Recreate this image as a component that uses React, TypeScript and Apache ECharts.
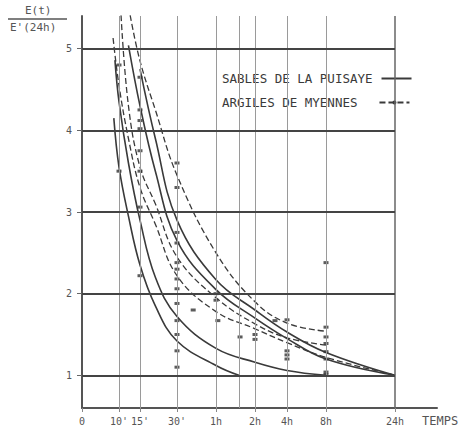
import { useEffect, useRef } from "react";
import * as echarts from "echarts";

// ---- axis definition (time axis of the scan: quasi-logarithmic, hand drawn) ----
const TICK_LABELS = ["0", "10'", "15'", "30'", "1h", "2h", "4h", "8h", "24h"];
const TICK_MINUTES = [0, 10, 15, 30, 60, 120, 240, 480, 1440];
const TICK_UNITS = [0, 37, 58, 95, 134, 173, 205, 244, 313];
const X_MAX = 355;
const GRID_MINUTES = [10, 15, 30, 60, 90, 120, 240, 480];
const Y_TICKS = [1, 2, 3, 4, 5];

// ---- data: [minutes, E(t)/E'(24h)] ----
const SABLES_1 = [[8.6, 4.15], [10, 3.55], [12, 2.95], [15, 2.35], [20, 1.85], [30, 1.42], [60, 1.12], [90, 1.0]];
const SABLES_2 = [[8.9, 4.86], [10, 4.35], [12, 3.6], [15, 2.9], [20, 2.2], [30, 1.72], [60, 1.33], [120, 1.16], [240, 1.06], [480, 1.0]];
const SABLES_3 = [[12, 5.04], [15, 4.3], [20, 3.5], [30, 2.65], [60, 2.05], [120, 1.7], [240, 1.45], [480, 1.2], [1440, 1.0]];
const SABLES_4 = [[15, 4.75], [20, 3.9], [30, 2.9], [60, 2.17], [120, 1.8], [240, 1.53], [480, 1.28], [1440, 1.0]];
const ARGILES_1 = [[8.4, 5.13], [10, 4.55], [12, 3.9], [15, 3.3], [20, 2.85], [30, 2.22], [60, 1.78], [120, 1.57], [240, 1.4], [480, 1.22], [1440, 1.0]];
const ARGILES_2 = [[10.4, 5.41], [12, 4.3], [15, 3.55], [20, 3.1], [30, 2.45], [60, 1.95], [120, 1.63], [240, 1.46], [480, 1.37]];
const ARGILES_3 = [[12.4, 5.41], [15, 4.85], [20, 4.25], [30, 3.45], [60, 2.5], [120, 1.9], [240, 1.64], [480, 1.54]];
const POINTS = [
  [10, 4.8], [10, 3.5],
  [15, 4.65], [15, 4.25], [15, 4.12], [15, 4.02], [15, 3.75], [15, 3.5], [15, 3.06], [15, 2.22],
  [30, 3.6], [30, 3.3], [30, 2.75], [30, 2.62], [30, 2.38], [30, 2.3], [30, 2.18], [30, 2.06], [30, 1.88], [30, 1.67], [30, 1.5], [30, 1.3], [30, 1.1],
  [40, 1.8], [60, 2.0], [60, 1.92], [62, 1.67], [92, 1.47], [120, 1.5], [120, 1.44], [185, 1.67],
  [240, 1.68], [240, 1.3], [240, 1.25], [240, 1.2],
  [480, 2.38], [480, 1.59], [480, 1.47], [480, 1.39], [480, 1.29], [480, 1.2], [480, 1.04], [480, 1.01],
];

const SABLES_NAME = "SABLES DE LA PUISAYE";
const ARGILES_NAME = "ARGILES DE MYENNES";

function timeToUnits(m: number): number {
  if (m <= TICK_MINUTES[1]) return (m / TICK_MINUTES[1]) * TICK_UNITS[1];
  for (let i = 1; i < TICK_MINUTES.length - 1; i++) {
    const a = TICK_MINUTES[i], b = TICK_MINUTES[i + 1];
    if (m <= b) {
      const f = Math.log(m / a) / Math.log(b / a);
      return TICK_UNITS[i] + f * (TICK_UNITS[i + 1] - TICK_UNITS[i]);
    }
  }
  return TICK_UNITS[TICK_UNITS.length - 1];
}

const toXY = (arr: number[][]) => arr.map(([m, v]) => [timeToUnits(m), v]);

const FONT = "DejaVu Sans Mono";
const INK = "#3a3a3a";

function legendFor(name: string, top: number, gap: number, hideSymbol: boolean) {
  return {
    data: [hideSymbol ? { name, itemStyle: { opacity: 0 } } : { name }],
    orient: "vertical",
    left: 217,
    top,
    align: "right",
    itemWidth: 30,
    itemHeight: 5,
    selectedMode: false,
    textStyle: { fontFamily: FONT, fontSize: 12.5, color: INK, padding: [0, gap, 0, 0] },
  };
}

function buildOption() {
  const x24 = timeToUnits(1440);
  const lineSeries = (name: string, data: number[][], dashed: boolean) => ({
    type: "line",
    name,
    data: toXY(data),
    smooth: 0.4,
    symbol: dashed ? "circle" : "none",
    symbolSize: 4,
    showSymbol: false,
    itemStyle: { color: INK },
    lineStyle: { color: INK, width: dashed ? 1.3 : 1.6, type: dashed ? [6, 3] : "solid" },
    silent: true,
    z: 3,
  });

  return {
    animation: false,
    backgroundColor: "#ffffff",
    grid: { left: 82, right: 30, top: 16, bottom: 23 },
    legend: [
      legendFor(SABLES_NAME, 67, 4, true),
      legendFor(ARGILES_NAME, 91, 17, false),
    ],
    xAxis: {
      type: "value",
      min: 0,
      max: X_MAX,
      axisLine: { show: true, lineStyle: { color: "#555", width: 2 } },
      axisTick: { show: true, customValues: TICK_UNITS, length: 4, lineStyle: { color: "#888" } },
      axisLabel: {
        customValues: TICK_UNITS,
        formatter: (v: number) => {
          const i = TICK_UNITS.findIndex((u) => Math.abs(u - v) < 0.01);
          return i >= 0 ? TICK_LABELS[i] : "";
        },
        fontFamily: FONT,
        fontSize: 10,
        color: "#555",
        margin: 8,
      },
      splitLine: { show: false },
    },
    yAxis: {
      type: "value",
      min: 0.6,
      max: 5.4,
      axisLine: { show: true, lineStyle: { color: "#555", width: 2 } },
      axisTick: { show: true, customValues: Y_TICKS, length: 5, lineStyle: { color: "#666" } },
      axisLabel: {
        customValues: Y_TICKS,
        formatter: (v: number) => String(Math.round(v)),
        fontFamily: FONT,
        fontSize: 10,
        color: "#555",
        margin: 10,
      },
      splitLine: { show: false },
    },
    graphic: [
      { type: "text", left: 25, top: 5, style: { text: "E(t)", font: `11px "${FONT}"`, fill: "#555" } },
      { type: "line", shape: { x1: 8, y1: 19, x2: 67, y2: 19 }, style: { stroke: "#555", lineWidth: 1.5 } },
      { type: "text", left: 10, top: 22, style: { text: "E'(24h)", font: `11px "${FONT}"`, fill: "#555" } },
      { type: "text", left: 422, top: 415, style: { text: "TEMPS", font: `12px "${FONT}"`, fill: "#555" } },
    ],
    series: [
      {
        type: "line",
        name: "grid",
        data: [],
        silent: true,
        z: 1,
        markLine: {
          silent: true,
          symbol: ["none", "none"],
          label: { show: false },
          data: [
            ...GRID_MINUTES.map((m) => ({ xAxis: timeToUnits(m), lineStyle: { color: "#9a9a9a", width: 1, type: "solid" } })),
            { xAxis: x24, lineStyle: { color: "#666", width: 1.5, type: "solid" } },
            ...Y_TICKS.map((v) => [
              { coord: [0, v], lineStyle: { color: "#444", width: 2, type: "solid" } },
              { coord: [x24, v] },
            ]),
          ],
        },
      },
      lineSeries(SABLES_NAME, SABLES_1, false),
      lineSeries(SABLES_NAME, SABLES_2, false),
      lineSeries(SABLES_NAME, SABLES_3, false),
      lineSeries(SABLES_NAME, SABLES_4, false),
      lineSeries(ARGILES_NAME, ARGILES_1, true),
      lineSeries(ARGILES_NAME, ARGILES_2, true),
      lineSeries(ARGILES_NAME, ARGILES_3, true),
      {
        type: "scatter",
        name: "mesures",
        data: toXY(POINTS),
        symbol: "rect",
        symbolSize: [5, 3],
        itemStyle: { color: "#333" },
        silent: true,
        z: 4,
      },
    ],
  };
}

export default function App() {
  const ref = useRef<HTMLDivElement>(null);
  useEffect(() => {
    if (!ref.current) return;
    const chart = echarts.init(ref.current, null, { renderer: "svg" });
    chart.setOption(buildOption() as any);
    return () => chart.dispose();
  }, []);
  return (
    <div
      ref={ref}
      style={{ position: "fixed", left: 0, top: 0, width: 467, height: 431, background: "#fff" }}
    />
  );
}
